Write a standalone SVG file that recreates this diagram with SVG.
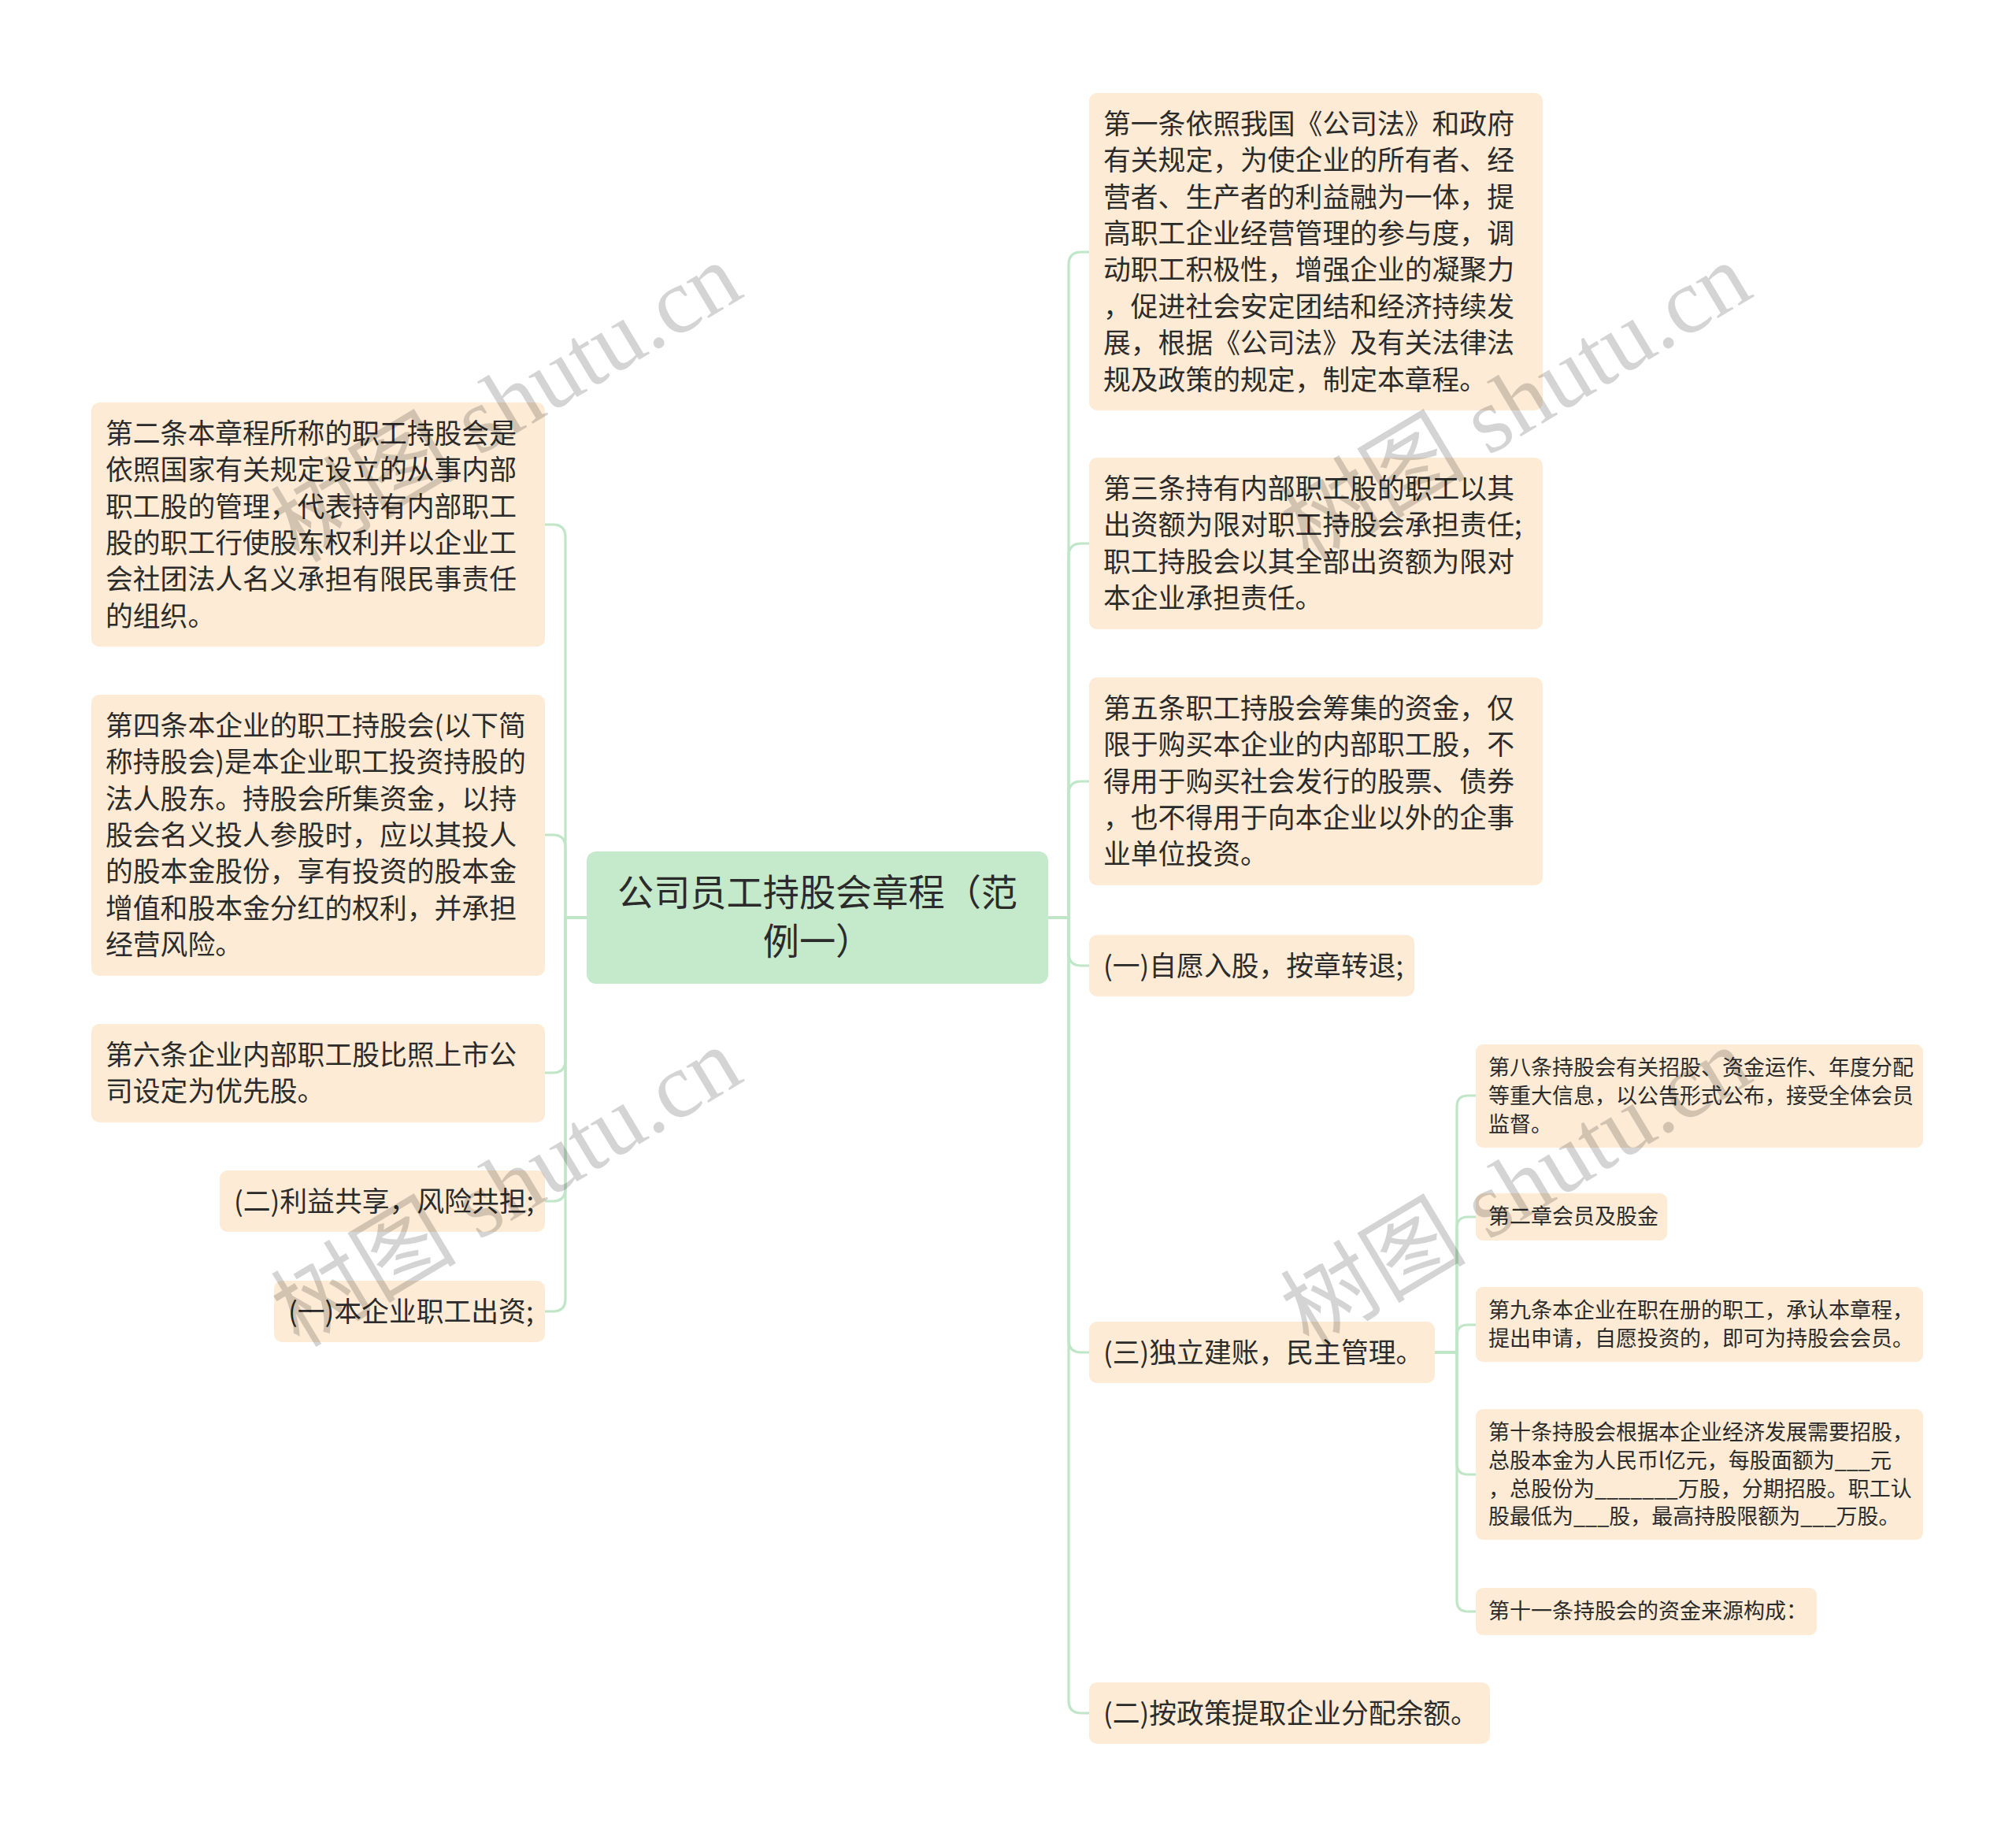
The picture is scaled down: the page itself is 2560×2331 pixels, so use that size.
<svg xmlns="http://www.w3.org/2000/svg" width="2560" height="2331" viewBox="0 0 2560 2331">
<style>
.bg{fill:#ffffff}
.node{fill:#fdebd5}
.root{fill:#c5eacb}
.t2{font-family:"Noto Sans CJK SC","Noto Sans",sans-serif;font-size:34.8px;fill:#2b2b2b}
.t3{font-family:"Noto Sans CJK SC","Noto Sans",sans-serif;font-size:27px;fill:#2b2b2b}
.t1{font-family:"Noto Sans CJK SC","Noto Sans",sans-serif;font-size:46.2px;fill:#2b2b2b;text-anchor:middle}
.conn path{fill:none;stroke:#bfe6c6;stroke-width:3.2}
.wm{font-family:"Liberation Serif","Noto Sans CJK SC",serif;font-size:118px;fill:#000;fill-opacity:0.17}
</style>
<rect class="bg" x="0" y="0" width="2560" height="2331"/>
<g class="conn" id="connectors">
<path d="M1331 1165 H1357 V336 Q1357 320 1373 320 H1383"/>
<path d="M1331 1165 H1357 V706 Q1357 690 1373 690 H1383"/>
<path d="M1331 1165 H1357 V1008 Q1357 992 1373 992 H1383"/>
<path d="M1331 1165 H1357 V1210 Q1357 1226 1373 1226 H1383"/>
<path d="M1331 1165 H1357 V1701 Q1357 1717 1373 1717 H1383"/>
<path d="M1331 1165 H1357 V2159 Q1357 2175 1373 2175 H1383"/>
<path d="M745 1165 H718 V682 Q718 666 702 666 H692"/>
<path d="M745 1165 H718 V1076 Q718 1060 702 1060 H692"/>
<path d="M745 1165 H718 V1346 Q718 1362 702 1362 H692"/>
<path d="M745 1165 H718 V1509 Q718 1525 702 1525 H692"/>
<path d="M745 1165 H718 V1649 Q718 1665 702 1665 H692"/>
<path d="M1822 1717 H1850 V1405 Q1850 1391 1864 1391 H1874"/>
<path d="M1822 1717 H1850 V1559 Q1850 1545 1864 1545 H1874"/>
<path d="M1822 1717 H1850 V1696 Q1850 1682 1864 1682 H1874"/>
<path d="M1822 1717 H1850 V1858 Q1850 1872 1864 1872 H1874"/>
<path d="M1822 1717 H1850 V2032 Q1850 2046 1864 2046 H1874"/>
</g>
<g id="root">
<rect class="root" x="745" y="1081" width="586" height="168" rx="12"/>
<text class="t1"><tspan x="1038" y="1150">公司员工持股会章程（范</tspan><tspan x="1038" y="1212">例一）</tspan></text>
</g>
<g id="n1">
<rect class="node" x="1383" y="118" width="576" height="403" rx="10"/>
<text class="t2"><tspan x="1401" y="169.7">第一条依照我国《公司法》和政府</tspan><tspan x="1401" y="216.1">有关规定，为使企业的所有者、经</tspan><tspan x="1401" y="262.5">营者、生产者的利益融为一体，提</tspan><tspan x="1401" y="308.9">高职工企业经营管理的参与度，调</tspan><tspan x="1401" y="355.3">动职工积极性，增强企业的凝聚力</tspan><tspan x="1401" y="401.7">，促进社会安定团结和经济持续发</tspan><tspan x="1401" y="448.1">展，根据《公司法》及有关法律法</tspan><tspan x="1401" y="494.5">规及政策的规定，制定本章程。</tspan></text>
</g>
<g id="n3">
<rect class="node" x="1383" y="581" width="576" height="218" rx="10"/>
<text class="t2"><tspan x="1401" y="632.7">第三条持有内部职工股的职工以其</tspan><tspan x="1401" y="679.1">出资额为限对职工持股会承担责任;</tspan><tspan x="1401" y="725.5">职工持股会以其全部出资额为限对</tspan><tspan x="1401" y="771.9">本企业承担责任。</tspan></text>
</g>
<g id="n5">
<rect class="node" x="1383" y="860" width="576" height="264" rx="10"/>
<text class="t2"><tspan x="1401" y="911.7">第五条职工持股会筹集的资金，仅</tspan><tspan x="1401" y="958.1">限于购买本企业的内部职工股，不</tspan><tspan x="1401" y="1004.5">得用于购买社会发行的股票、债券</tspan><tspan x="1401" y="1050.9">，也不得用于向本企业以外的企事</tspan><tspan x="1401" y="1097.3">业单位投资。</tspan></text>
</g>
<g id="n_ziyuan">
<rect class="node" x="1383" y="1187" width="413" height="78" rx="10"/>
<text class="t2" x="1401" y="1238.7">(一)自愿入股，按章转退;</text>
</g>
<g id="n_duli">
<rect class="node" x="1383" y="1678" width="439" height="78" rx="10"/>
<text class="t2" x="1401" y="1729.7">(三)独立建账，民主管理。</text>
</g>
<g id="n_anzhengce">
<rect class="node" x="1383" y="2136" width="509" height="78" rx="10"/>
<text class="t2" x="1401" y="2187.7">(二)按政策提取企业分配余额。</text>
</g>
<g id="n2">
<rect class="node" x="116" y="511" width="576" height="310" rx="10"/>
<text class="t2"><tspan x="134" y="562.7">第二条本章程所称的职工持股会是</tspan><tspan x="134" y="609.1">依照国家有关规定设立的从事内部</tspan><tspan x="134" y="655.5">职工股的管理，代表持有内部职工</tspan><tspan x="134" y="701.9">股的职工行使股东权利并以企业工</tspan><tspan x="134" y="748.3">会社团法人名义承担有限民事责任</tspan><tspan x="134" y="794.7">的组织。</tspan></text>
</g>
<g id="n4">
<rect class="node" x="116" y="882" width="576" height="357" rx="10"/>
<text class="t2"><tspan x="134" y="933.7">第四条本企业的职工持股会(以下简</tspan><tspan x="134" y="980.1">称持股会)是本企业职工投资持股的</tspan><tspan x="134" y="1026.5">法人股东。持股会所集资金，以持</tspan><tspan x="134" y="1072.9">股会名义投人参股时，应以其投人</tspan><tspan x="134" y="1119.3">的股本金股份，享有投资的股本金</tspan><tspan x="134" y="1165.7">增值和股本金分红的权利，并承担</tspan><tspan x="134" y="1212.1">经营风险。</tspan></text>
</g>
<g id="n6">
<rect class="node" x="116" y="1300" width="576" height="125" rx="10"/>
<text class="t2"><tspan x="134" y="1351.7">第六条企业内部职工股比照上市公</tspan><tspan x="134" y="1398.1">司设定为优先股。</tspan></text>
</g>
<g id="n_liyi">
<rect class="node" x="279" y="1486" width="413" height="78" rx="10"/>
<text class="t2" x="297" y="1537.7">(二)利益共享，风险共担;</text>
</g>
<g id="n_chuzi">
<rect class="node" x="348" y="1626" width="344" height="78" rx="10"/>
<text class="t2" x="366" y="1677.7">(一)本企业职工出资;</text>
</g>
<g id="n8">
<rect class="node" x="1874" y="1326" width="568" height="131" rx="9"/>
<text class="t3"><tspan x="1890" y="1365.4">第八条持股会有关招股、资金运作、年度分配</tspan><tspan x="1890" y="1401">等重大信息，以公告形式公布，接受全体会员</tspan><tspan x="1890" y="1436.6">监督。</tspan></text>
</g>
<g id="n_chapter2">
<rect class="node" x="1874" y="1515" width="243" height="60" rx="9"/>
<text class="t3" x="1890" y="1554.4">第二章会员及股金</text>
</g>
<g id="n9">
<rect class="node" x="1874" y="1634" width="568" height="95" rx="9"/>
<text class="t3"><tspan x="1890" y="1673.4">第九条本企业在职在册的职工，承认本章程，</tspan><tspan x="1890" y="1709">提出申请，自愿投资的，即可为持股会会员。</tspan></text>
</g>
<g id="n10">
<rect class="node" x="1874" y="1789" width="568" height="166" rx="9"/>
<text class="t3"><tspan x="1890" y="1828.4">第十条持股会根据本企业经济发展需要招股，</tspan><tspan x="1890" y="1864">总股本金为人民币l亿元，每股面额为___元</tspan><tspan x="1890" y="1899.6">，总股份为_______万股，分期招股。职工认</tspan><tspan x="1890" y="1935.2">股最低为___股，最高持股限额为___万股。</tspan></text>
</g>
<g id="n11">
<rect class="node" x="1874" y="2016" width="433" height="60" rx="9"/>
<text class="t3" x="1890" y="2055.4">第十一条持股会的资金来源构成：</text>
</g>
<g id="watermarks">
<text class="wm" x="380" y="716" transform="rotate(-31 380 716)">树图 shutu.cn</text>
<text class="wm" x="380" y="1712" transform="rotate(-31 380 1712)">树图 shutu.cn</text>
<text class="wm" x="1662" y="716" transform="rotate(-31 1662 716)">树图 shutu.cn</text>
<text class="wm" x="1662" y="1712" transform="rotate(-31 1662 1712)">树图 shutu.cn</text>
</g>
</svg>
